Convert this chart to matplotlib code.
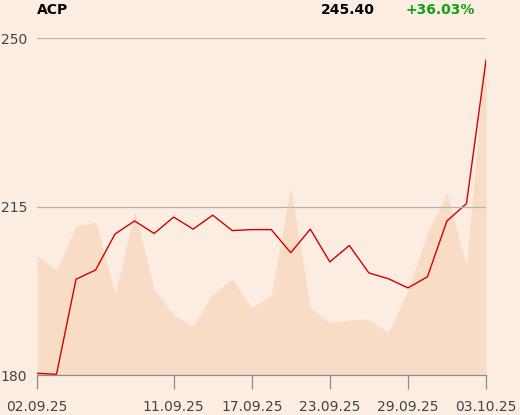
import matplotlib.pyplot as plt
import numpy as np

# trading days 02.09.25 - 03.10.25
dates = ["02.09.25", "03.09.25", "04.09.25", "05.09.25", "08.09.25", "09.09.25",
         "10.09.25", "11.09.25", "12.09.25", "15.09.25", "16.09.25", "17.09.25",
         "18.09.25", "19.09.25", "22.09.25", "23.09.25", "24.09.25", "25.09.25",
         "26.09.25", "29.09.25", "30.09.25", "01.10.25", "02.10.25", "03.10.25"]
price = [180.35, 180.15, 199.9, 201.8, 209.3, 212.0, 209.4, 212.8, 210.3, 213.2,
         210.0, 210.2, 210.2, 205.4, 210.3, 203.5, 206.9, 201.2, 200.0, 198.1,
         200.4, 212.0, 215.6, 245.40]
volume = [119, 105, 149, 153, 81, 164, 86, 60, 49, 81, 96, 67, 80, 188, 67, 52,
          55, 56, 42, 85, 142, 182, 108, 328]
tick_labels = ["02.09.25", "11.09.25", "17.09.25", "23.09.25", "29.09.25", "03.10.25"]

bg = "#FBEDE1"
fig = plt.figure(figsize=(5.2, 4.15), dpi=100, facecolor=bg)
ax = fig.add_axes([37 / 520, 40 / 415, 449 / 520, 337 / 415])
ax.set_facecolor("none")
ax2 = ax.twinx()
ax.set_zorder(ax2.get_zorder() + 1)
ax2.patch.set_facecolor(bg)

x = np.arange(len(dates))
ax2.fill_between(x, 0, volume, color="#F8DCC6", lw=0)
ax2.set_ylim(0, 337)
ax2.set_yticks([])
for s in ax2.spines.values():
    s.set_visible(False)

ax.plot(x, price, color="#D40000", lw=1.0)
ax.set_xlim(0, len(dates) - 1)
ax.set_ylim(180, 250)
ax.set_yticks([180, 215, 250])
ax.tick_params(axis="y", length=0, pad=7, labelsize=10, labelcolor="#444444")
for v in (215, 250):
    ax.axhline(v, color="#B4B4B4", lw=0.9)

ax.set_xticks([dates.index(t) for t in tick_labels])
ax.set_xticklabels(tick_labels)
ax.tick_params(axis="x", length=10, width=0.9, color="#8C8C8C", pad=8,
               labelsize=10, labelcolor="#444444")
for side in ("left", "right", "top"):
    ax.spines[side].set_visible(False)
ax.spines["bottom"].set_color("#8C8C8C")
ax.spines["bottom"].set_linewidth(0.9)

fig.text(37 / 520, 1 - 10 / 415, "ACP", fontsize=10, fontweight="bold",
         va="center", ha="left", color="black")
fig.text(375 / 520, 1 - 10 / 415, "245.40", fontsize=10, fontweight="bold",
         va="center", ha="right", color="black")
fig.text(475 / 520, 1 - 10 / 415, "+36.03%", fontsize=10, fontweight="bold",
         va="center", ha="right", color="#12A012")

fig.savefig("out.png", dpi=100, facecolor=bg)
